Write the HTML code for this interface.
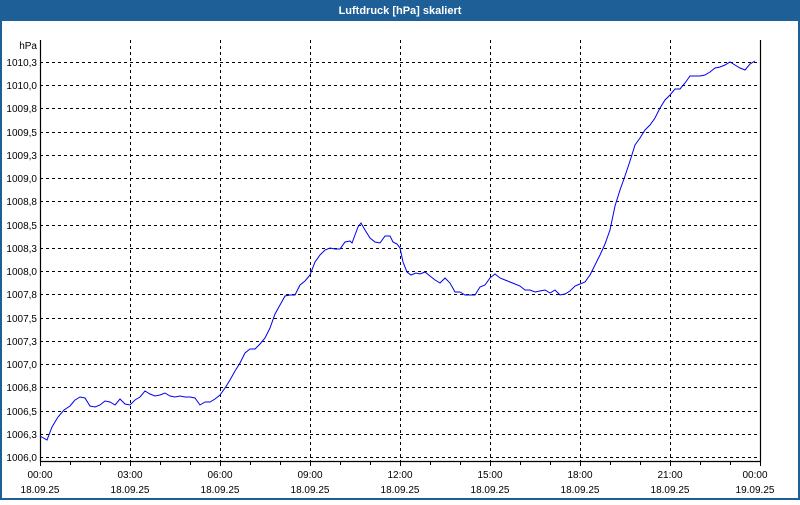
<!DOCTYPE html>
<html><head><meta charset="utf-8"><style>
body{margin:0;width:800px;height:500px;overflow:hidden;background:#fff;font-family:"Liberation Sans",sans-serif}
</style></head><body>
<svg width="800" height="500" xmlns="http://www.w3.org/2000/svg" font-family="Liberation Sans, sans-serif" font-size="10">
<rect x="0" y="0" width="800" height="500" fill="#fff"/>
<rect x="0" y="0" width="800" height="21" fill="#1d5f96"/>
<rect x="0" y="0" width="2" height="500" fill="#1d5f96"/>
<rect x="798" y="0" width="2" height="500" fill="#1d5f96"/>
<rect x="0" y="498" width="800" height="2" fill="#1d5f96"/>
<text x="400" y="14" fill="#fff" font-weight="bold" font-size="11" text-anchor="middle">Luftdruck [hPa] skaliert</text>
<g stroke="#000" stroke-dasharray="3,3" stroke-width="1">
<line x1="40" x2="760" y1="62.5" y2="62.5"/><line x1="40" x2="760" y1="85.5" y2="85.5"/><line x1="40" x2="760" y1="108.5" y2="108.5"/><line x1="40" x2="760" y1="132.5" y2="132.5"/><line x1="40" x2="760" y1="155.5" y2="155.5"/><line x1="40" x2="760" y1="178.5" y2="178.5"/><line x1="40" x2="760" y1="201.5" y2="201.5"/><line x1="40" x2="760" y1="225.5" y2="225.5"/><line x1="40" x2="760" y1="248.5" y2="248.5"/><line x1="40" x2="760" y1="271.5" y2="271.5"/><line x1="40" x2="760" y1="294.5" y2="294.5"/><line x1="40" x2="760" y1="318.5" y2="318.5"/><line x1="40" x2="760" y1="341.5" y2="341.5"/><line x1="40" x2="760" y1="364.5" y2="364.5"/><line x1="40" x2="760" y1="387.5" y2="387.5"/><line x1="40" x2="760" y1="411.5" y2="411.5"/><line x1="40" x2="760" y1="434.5" y2="434.5"/><line x1="40" x2="760" y1="457.5" y2="457.5"/>
<line x1="130.5" x2="130.5" y1="40" y2="462"/><line x1="220.5" x2="220.5" y1="40" y2="462"/><line x1="310.5" x2="310.5" y1="40" y2="462"/><line x1="400.5" x2="400.5" y1="40" y2="462"/><line x1="490.5" x2="490.5" y1="40" y2="462"/><line x1="580.5" x2="580.5" y1="40" y2="462"/><line x1="670.5" x2="670.5" y1="40" y2="462"/>
</g>
<path d="M40.5 40V461.5H760.5V40" fill="none" stroke="#000" stroke-width="1.2"/>
<g stroke="#000">
<path d="M40.5 462v4M70.5 462v3M100.5 462v3M130.5 462v4M160.5 462v3M190.5 462v3M220.5 462v4M250.5 462v3M280.5 462v3M310.5 462v4M340.5 462v3M370.5 462v3M400.5 462v4M430.5 462v3M460.5 462v3M490.5 462v4M520.5 462v3M550.5 462v3M580.5 462v4M610.5 462v3M640.5 462v3M670.5 462v4M700.5 462v3M730.5 462v3M760.5 462v4"/>
</g>
<g text-anchor="end" fill="#000">
<text x="37" y="49">hPa</text>
<text x="37" y="66">1010,3</text><text x="37" y="89">1010,0</text><text x="37" y="112">1009,8</text><text x="37" y="136">1009,5</text><text x="37" y="159">1009,3</text><text x="37" y="182">1009,0</text><text x="37" y="205">1008,8</text><text x="37" y="229">1008,5</text><text x="37" y="252">1008,3</text><text x="37" y="275">1008,0</text><text x="37" y="298">1007,8</text><text x="37" y="322">1007,5</text><text x="37" y="345">1007,3</text><text x="37" y="368">1007,0</text><text x="37" y="391">1006,8</text><text x="37" y="415">1006,5</text><text x="37" y="438">1006,3</text><text x="37" y="461">1006,0</text>
</g>
<g text-anchor="middle" fill="#000">
<text x="40" y="478">00:00</text><text x="40" y="493">18.09.25</text>
<text x="130" y="478">03:00</text><text x="130" y="493">18.09.25</text>
<text x="220" y="478">06:00</text><text x="220" y="493">18.09.25</text>
<text x="310" y="478">09:00</text><text x="310" y="493">18.09.25</text>
<text x="400" y="478">12:00</text><text x="400" y="493">18.09.25</text>
<text x="490" y="478">15:00</text><text x="490" y="493">18.09.25</text>
<text x="580" y="478">18:00</text><text x="580" y="493">18.09.25</text>
<text x="670" y="478">21:00</text><text x="670" y="493">18.09.25</text>
<text x="755" y="478">00:00</text><text x="755" y="493">19.09.25</text>
</g>
<polyline fill="none" stroke="#0000ee" stroke-width="1" points="40,436 47,440 52,427 58,417 64,410 70,406 75,400 80,397 85,398 90,406 95,407 100,405 105,401 110,402 115,405 120,399 125,404 130,405 135,400 140,397 145,391 150,394 155,396 160,395 165,393 170,396 175,397 180,396 185,397 190,397 195,398 200,405 205,402 210,402 215,399 220,395 225,388 230,380 235,371 240,363 245,353 250,349 255,349 260,344 265,338 270,328 275,314 280,305 285,296 290,295 295,295 300,285 305,281 310,275 315,262 320,255 325,250 330,248 335,249 340,249 345,242 350,241 352,243 355,235 358,227 361,223 365,230 370,238 375,242 380,243 385,236 390,236 393,242 397,244 400,248 403,262 407,272 411,275 416,273 420,274 425,272 430,276 435,280 440,283 445,278 450,283 455,292 460,292 465,295 470,295 475,295 480,287 485,285 490,278 495,274 500,278 505,280 510,282 515,284 520,286 525,290 530,290 535,292 540,291 545,290 550,293 555,290 560,295 565,294 570,291 575,286 580,284 585,282 590,275 595,265 600,255 605,244 610,230 615,206 620,190 625,176 630,161 635,145 640,138 645,130 650,125 655,118 660,108 665,100 670,95 675,89 680,89 685,83 690,76 695,76 700,76 705,75 710,72 715,68 720,67 725,65 730,62 735,65 740,68 745,70 750,64 755,61"/>
</svg>
</body></html>
